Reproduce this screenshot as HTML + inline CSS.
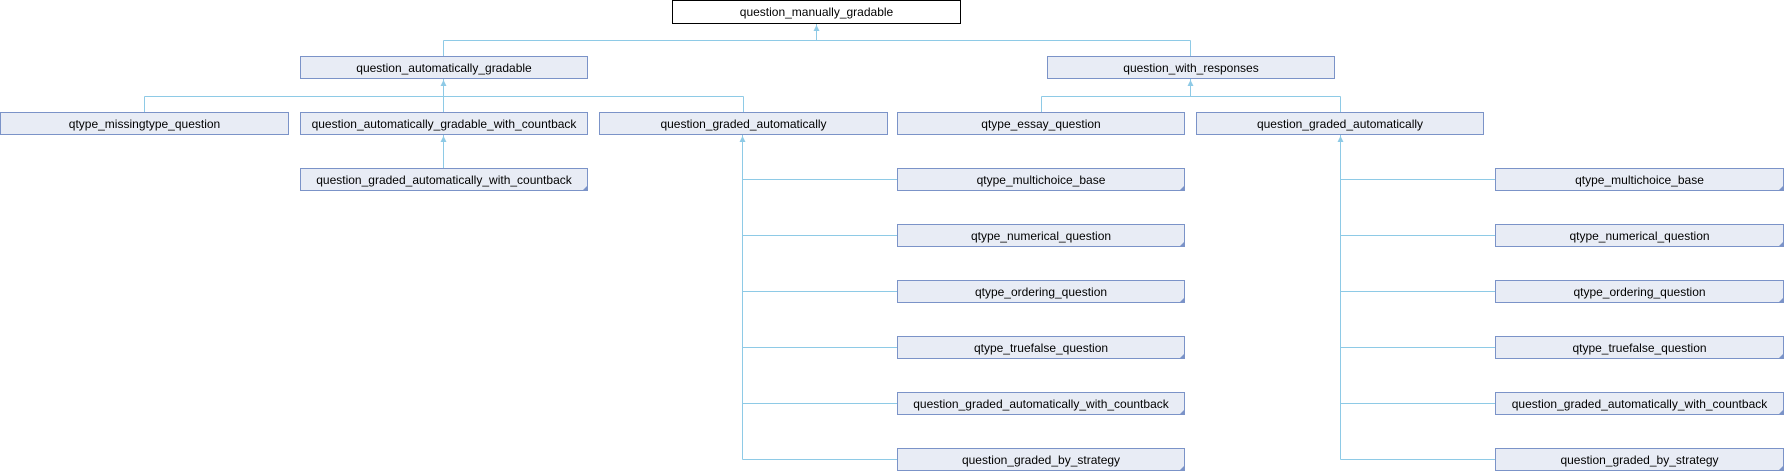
<!DOCTYPE html>
<html><head><meta charset="utf-8"><style>
html,body{margin:0;padding:0;background:#fff;width:1784px;height:472px;overflow:hidden}
svg text{font-family:"Liberation Sans",Arial,sans-serif;font-size:12px;fill:#000}
</style></head><body>
<svg width="1784" height="472" xmlns="http://www.w3.org/2000/svg">
<defs>
<marker id="a" markerWidth="8" markerHeight="8" refX="3" refY="0" orient="auto"></marker>
</defs>
<g stroke="#8ecae6" stroke-width="1" fill="none">
<!-- top level -->
<path d="M816.5 24 V40.5 M443.5 40.5 H1190.5 M443.5 40.5 V56 M1190.5 40.5 V56"/>
<!-- under qag -->
<path d="M443.5 79 V112 M144.5 96.5 H743.5 M144.5 96.5 V112 M743.5 96.5 V112"/>
<!-- qagwc -> qgawc -->
<path d="M443.5 135 V168"/>
<!-- under qwr -->
<path d="M1190.5 79 V96.5 M1041.5 96.5 H1340.5 M1041.5 96.5 V112 M1340.5 96.5 V112"/>
<!-- left qga children -->
<path d="M742.5 135 V459.5 M742.5 179.5 H897 M742.5 235.5 H897 M742.5 291.5 H897 M742.5 347.5 H897 M742.5 403.5 H897 M742.5 459.5 H897"/>
<!-- right qga children -->
<path d="M1340.5 135 V459.5 M1340.5 179.5 H1496 M1340.5 235.5 H1496 M1340.5 291.5 H1496 M1340.5 347.5 H1496 M1340.5 403.5 H1496 M1340.5 459.5 H1496"/>
</g>
<g fill="#8ecae6">
<path d="M816.5 25 L813.5 31 L819.5 31Z"/>
<path d="M443.5 80 L440.5 86 L446.5 86Z"/>
<path d="M1190.5 80 L1187.5 86 L1193.5 86Z"/>
<path d="M443.5 136 L440.5 142 L446.5 142Z"/>
<path d="M742.5 136 L739.5 142 L745.5 142Z"/>
<path d="M1340.5 136 L1337.5 142 L1343.5 142Z"/>
</g>
<!-- top node -->
<rect x="672.5" y="0.5" width="288" height="23" fill="#fff" stroke="#000"/>
<text x="816.5" y="16" text-anchor="middle">question_manually_gradable</text>
<g stroke="#7b93c8" fill="#e8ecf5">
<rect x="300.5" y="56.5" width="287" height="22"/>
<rect x="1047.5" y="56.5" width="287" height="22"/>
<rect x="0.5" y="112.5" width="288" height="22"/>
<rect x="300.5" y="112.5" width="287" height="22"/>
<rect x="599.5" y="112.5" width="288" height="22"/>
<rect x="897.5" y="112.5" width="287" height="22"/>
<rect x="1196.5" y="112.5" width="287" height="22"/>
<rect x="300.5" y="168.5" width="287" height="22"/>
<rect x="897.5" y="168.5" width="287" height="22"/>
<rect x="897.5" y="224.5" width="287" height="22"/>
<rect x="897.5" y="280.5" width="287" height="22"/>
<rect x="897.5" y="336.5" width="287" height="22"/>
<rect x="897.5" y="392.5" width="287" height="22"/>
<rect x="897.5" y="448.5" width="287" height="22"/>
<rect x="1495.5" y="168.5" width="288" height="22"/>
<rect x="1495.5" y="224.5" width="288" height="22"/>
<rect x="1495.5" y="280.5" width="288" height="22"/>
<rect x="1495.5" y="336.5" width="288" height="22"/>
<rect x="1495.5" y="392.5" width="288" height="22"/>
<rect x="1495.5" y="448.5" width="288" height="22"/>
</g>
<g fill="#7b93c8">
<path d="M588 185 L588 191 L582 191Z"/>
<path d="M1185 185 L1185 191 L1179 191Z"/>
<path d="M1185 241 L1185 247 L1179 247Z"/>
<path d="M1185 297 L1185 303 L1179 303Z"/>
<path d="M1185 353 L1185 359 L1179 359Z"/>
<path d="M1185 409 L1185 415 L1179 415Z"/>
<path d="M1185 465 L1185 471 L1179 471Z"/>
<path d="M1784 185 L1784 191 L1778 191Z"/>
<path d="M1784 241 L1784 247 L1778 247Z"/>
<path d="M1784 297 L1784 303 L1778 303Z"/>
<path d="M1784 353 L1784 359 L1778 359Z"/>
<path d="M1784 409 L1784 415 L1778 415Z"/>
<path d="M1784 465 L1784 471 L1778 471Z"/>
</g>
<g text-anchor="middle">
<text x="444" y="72">question_automatically_gradable</text>
<text x="1191" y="72">question_with_responses</text>
<text x="144.5" y="128">qtype_missingtype_question</text>
<text x="444" y="128">question_automatically_gradable_with_countback</text>
<text x="743.5" y="128">question_graded_automatically</text>
<text x="1041" y="128">qtype_essay_question</text>
<text x="1340" y="128">question_graded_automatically</text>
<text x="444" y="184">question_graded_automatically_with_countback</text>
<text x="1041" y="184">qtype_multichoice_base</text>
<text x="1041" y="240">qtype_numerical_question</text>
<text x="1041" y="296">qtype_ordering_question</text>
<text x="1041" y="352">qtype_truefalse_question</text>
<text x="1041" y="408">question_graded_automatically_with_countback</text>
<text x="1041" y="464">question_graded_by_strategy</text>
<text x="1639.5" y="184">qtype_multichoice_base</text>
<text x="1639.5" y="240">qtype_numerical_question</text>
<text x="1639.5" y="296">qtype_ordering_question</text>
<text x="1639.5" y="352">qtype_truefalse_question</text>
<text x="1639.5" y="408">question_graded_automatically_with_countback</text>
<text x="1639.5" y="464">question_graded_by_strategy</text>
</g>
</svg>
</body></html>
